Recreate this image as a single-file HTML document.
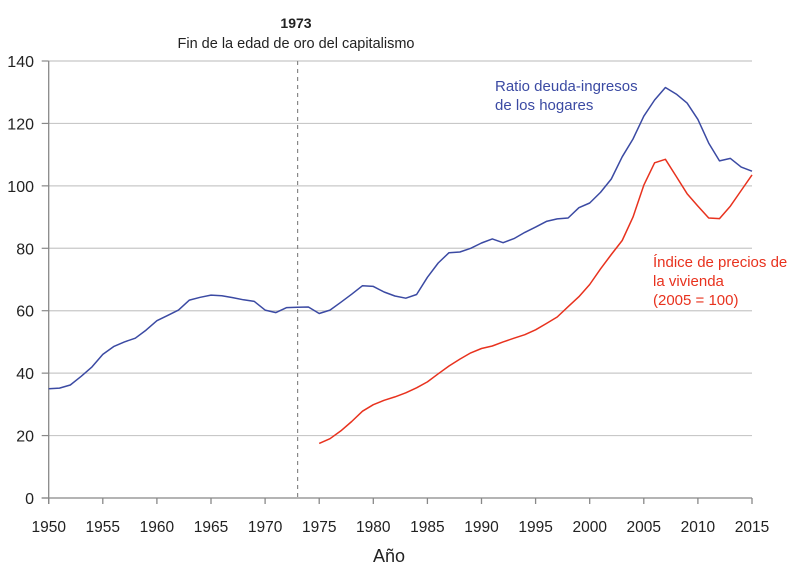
<!DOCTYPE html>
<html><head><meta charset="utf-8"><style>
body{margin:0;background:#fff}
svg{display:block;font-family:"Liberation Sans",sans-serif}
</style></head><body>
<svg id="chart" width="810" height="577" viewBox="0 0 810 577">
<g id="grid"></g>
<g id="axes"></g>
<line x1="297.6" y1="61" x2="297.6" y2="498" stroke="#888" stroke-width="1.2" stroke-dasharray="4,4"/>
<text x="296" y="28" text-anchor="middle" font-size="14" font-weight="bold" fill="#222">1973</text>
<text x="296" y="48" text-anchor="middle" font-size="14.5" fill="#222">Fin de la edad de oro del capitalismo</text>
<g id="series"></g>
<text x="495" y="91" font-size="15" fill="#3b4aa3">Ratio deuda-ingresos</text>
<text x="495" y="110" font-size="15" fill="#3b4aa3">de los hogares</text>
<text x="653" y="267" font-size="15" fill="#e8321e">Índice de precios de</text>
<text x="653" y="286" font-size="15" fill="#e8321e">la vivienda</text>
<text x="653" y="305" font-size="15" fill="#e8321e">(2005 = 100)</text>
<text x="389" y="562" text-anchor="middle" font-size="18" fill="#222">Año</text>
</svg>
<script>
const debtYears=[1950,1951,1952,1953,1954,1955,1956,1957,1958,1959,1960,1961,1962,1963,1964,1965,1966,1967,1968,1969,1970,1971,1972,1973,1974,1975,1976,1977,1978,1979,1980,1981,1982,1983,1984,1985,1986,1987,1988,1989,1990,1991,1992,1993,1994,1995,1996,1997,1998,1999,2000,2001,2002,2003,2004,2005,2006,2007,2008,2009,2010,2011,2012,2013,2014,2015];
const debtValues=[35,35.2,36.2,39,42,46,48.5,50,51.2,53.8,56.8,58.5,60.2,63.4,64.3,65,64.8,64.2,63.5,63,60.2,59.4,61,61.1,61.2,59.1,60.2,62.7,65.3,68,67.8,66,64.7,64,65.2,70.7,75.3,78.6,78.8,80,81.7,83,81.8,83.1,85.1,86.8,88.6,89.4,89.7,93,94.5,97.9,102.2,109.3,115,122.3,127.5,131.5,129.4,126.5,121.3,113.7,108,108.8,106,104.7];
const priceYears=[1975,1976,1977,1978,1979,1980,1981,1982,1983,1984,1985,1986,1987,1988,1989,1990,1991,1992,1993,1994,1995,1996,1997,1998,1999,2000,2001,2002,2003,2004,2005,2006,2007,2008,2009,2010,2011,2012,2013,2014,2015];
const priceValues=[17.5,19,21.5,24.5,27.8,29.9,31.3,32.4,33.7,35.3,37.2,39.8,42.3,44.5,46.5,47.9,48.7,50,51.2,52.3,53.9,55.9,58,61.3,64.5,68.4,73.4,78,82.5,90,100.2,107.4,108.5,103,97.5,93.5,89.7,89.5,93.5,98.5,103.5];
const xTicks=[1950,1955,1960,1965,1970,1975,1980,1985,1990,1995,2000,2005,2010,2015];
const yTicks=[0,20,40,60,80,100,120,140];

const NS="http://www.w3.org/2000/svg";
const X0=48.7,X1=752,Y0=498,Y1=61;
const xs=y=>X0+(y-1950)/(2015-1950)*(X1-X0);
const ys=v=>Y0-v/140*(Y0-Y1);
function mk(tag,attrs,parent){const e=document.createElementNS(NS,tag);for(const k in attrs)e.setAttribute(k,attrs[k]);parent.appendChild(e);return e;}
const grid=document.getElementById('grid'),axes=document.getElementById('axes'),series=document.getElementById('series');
yTicks.forEach(v=>{
  if(v>0){const l=mk('line',{x1:X0,x2:X1,y1:ys(v),y2:ys(v),stroke:'#c8c8c8','stroke-width':1.2},grid);
  
  }
  const t=mk('text',{x:34,y:ys(v)+6,'text-anchor':'end','font-size':16,fill:'#222'},axes);
  t.textContent=v;
  
  
  const tk=mk('line',{x1:X0-7,x2:X0,y1:ys(v),y2:ys(v),stroke:'#888','stroke-width':1.2},axes);
  
  
});
const ya=mk('line',{x1:X0,x2:X0,y1:Y1,y2:Y0+6,stroke:'#888','stroke-width':1.3},axes);


const xa=mk('line',{x1:X0-7,x2:X1,y1:Y0,y2:Y0,stroke:'#888','stroke-width':1.3},axes);


xTicks.forEach(y=>{
  const tk=mk('line',{x1:xs(y),x2:xs(y),y1:Y0,y2:Y0+6,stroke:'#888','stroke-width':1.3},axes);
  
  
  const t=mk('text',{x:xs(y),y:532,'text-anchor':'middle','font-size':15.5,fill:'#222'},axes);
  t.textContent=y;
  
  
});
function line(xsArr,vals,color,name){
  const d=xsArr.map((y,i)=>(i?'L':'M')+xs(y).toFixed(1)+','+ys(vals[i]).toFixed(1)).join('');
  const p=mk('path',{d:d,fill:'none',stroke:color,'stroke-width':1.5,'stroke-linejoin':'round'},series);
  
  
}
line(debtYears,debtValues,'#3b4aa3','debt-income-ratio-line');
line(priceYears,priceValues,'#e8321e','house-price-index-line');
</script>
</body></html>
